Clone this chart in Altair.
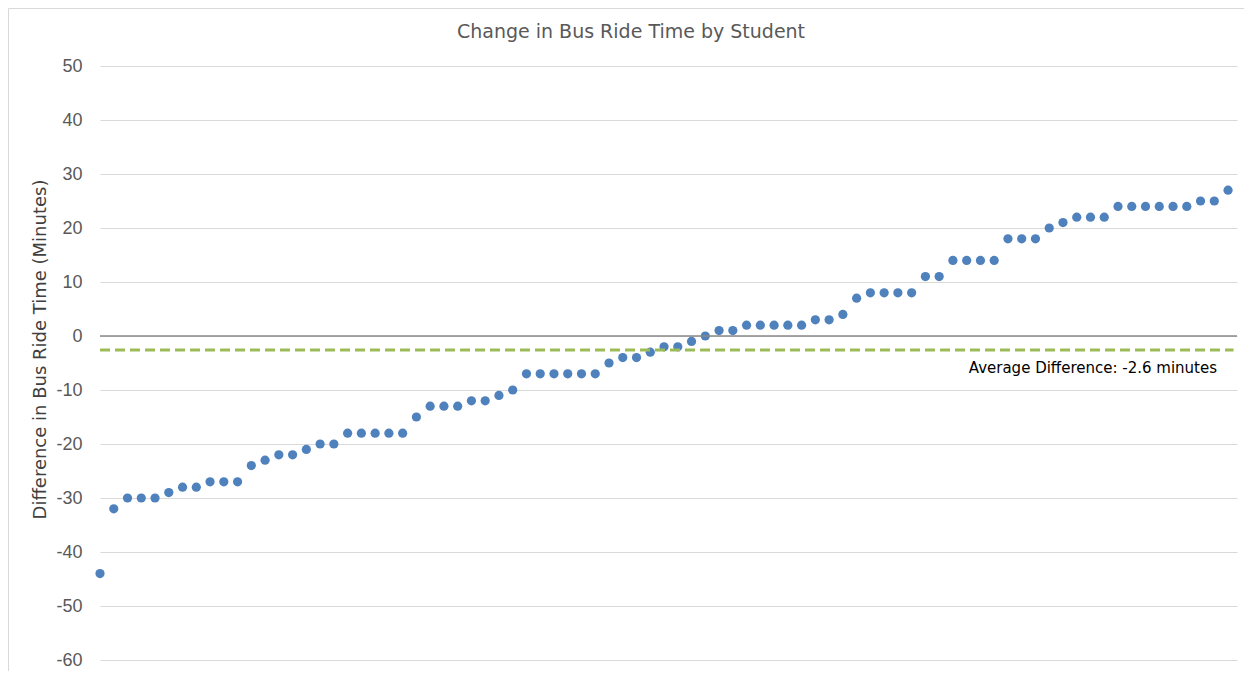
import altair as alt
import pandas as pd

values = [-44, -32, -30, -30, -30, -29, -28, -28, -27, -27, -27, -24, -23, -22, -22,
          -21, -20, -20, -18, -18, -18, -18, -18, -15, -13, -13, -13, -12, -12, -11,
          -10, -7, -7, -7, -7, -7, -7, -5, -4, -4, -3, -2, -2, -1, 0, 1, 1, 2, 2, 2,
          2, 2, 3, 3, 4, 7, 8, 8, 8, 8, 11, 11, 14, 14, 14, 14, 18, 18, 18, 20, 21,
          22, 22, 22, 24, 24, 24, 24, 24, 24, 25, 25, 27]
students = list(range(1, len(values) + 1))
avg_value = [-2.6]
avg_span = [1, 83.4]
avg_label = ["Average Difference: -2.6 minutes"]
avg_label_x = [82.2]
y_ticks = [50, 40, 30, 20, 10, 0, -10, -20, -30, -40, -50, -60]
chart_title = ["Change in Bus Ride Time by Student"]

df = pd.DataFrame({"student": students, "diff": values})
avg_df = pd.DataFrame({"x": [avg_span[0]], "x2": [avg_span[1]], "y": avg_value})
lab_df = pd.DataFrame({"x": avg_label_x, "y": avg_value, "t": avg_label})
zero_df = pd.DataFrame({"y": [0]})
title_df = pd.DataFrame({"t": chart_title})

xs = alt.Scale(domain=[1, 83.65], nice=False, zero=False)
ys = alt.Scale(domain=[-60, 50], nice=False)

zero_line = alt.Chart(zero_df).mark_rule(color="#898989", strokeWidth=1.5).encode(
    y=alt.Y("y:Q", scale=ys)
)

points = alt.Chart(df).mark_circle(size=85, color="#4F81BD", opacity=1).encode(
    x=alt.X("student:Q", scale=xs, axis=None),
    y=alt.Y("diff:Q", scale=ys,
            axis=alt.Axis(values=y_ticks, title="Difference in Bus Ride Time (Minutes)",
                          labelExpr="'' + datum.value",
                          grid=True, gridColor="#D9D9D9", gridWidth=1,
                          domain=False, ticks=False, labelFontSize=18,
                          labelColor="#595959", labelPadding=18, labelFont="Liberation Sans",
                          titleFontSize=18, titleFont="DejaVu Sans", titleFontWeight="normal",
                          titleColor="#404040", titleX=-51, titleY=283)),
)

avg_line = alt.Chart(avg_df).mark_rule(color="#9BBB59", strokeWidth=3, strokeDash=[10, 5]).encode(
    x=alt.X("x:Q", scale=xs), x2="x2:Q", y=alt.Y("y:Q", scale=ys)
)

avg_text = alt.Chart(lab_df).mark_text(align="right", baseline="middle", dy=18, fontSize=15,
                                         font="DejaVu Sans", color="#000000").encode(
    x=alt.X("x:Q", scale=xs), y=alt.Y("y:Q", scale=ys), text="t:N"
)

title_text = alt.Chart(title_df).mark_text(align="center", baseline="middle", fontSize=19,
                                            font="DejaVu Sans", color="#595959").encode(
    x=alt.value(531), y=alt.value(-34), text="t:N"
)

border = alt.Chart(zero_df).mark_rect(filled=False, stroke="#D9D9D9", strokeWidth=1).encode(
    x=alt.value(-91.5), x2=alt.value(1160), y=alt.value(-57.5), y2=alt.value(640)
)

chart = alt.layer(points, zero_line, avg_line, avg_text, title_text, border).properties(
    width=1137, height=594,
    background="white",
    autosize=alt.AutoSizeParams(type="none"),
    padding={"left": 92, "top": 58, "right": 7, "bottom": 11},
).configure_view(strokeWidth=0)

chart.save("out.html", embed_options={"renderer": "svg", "actions": False})
